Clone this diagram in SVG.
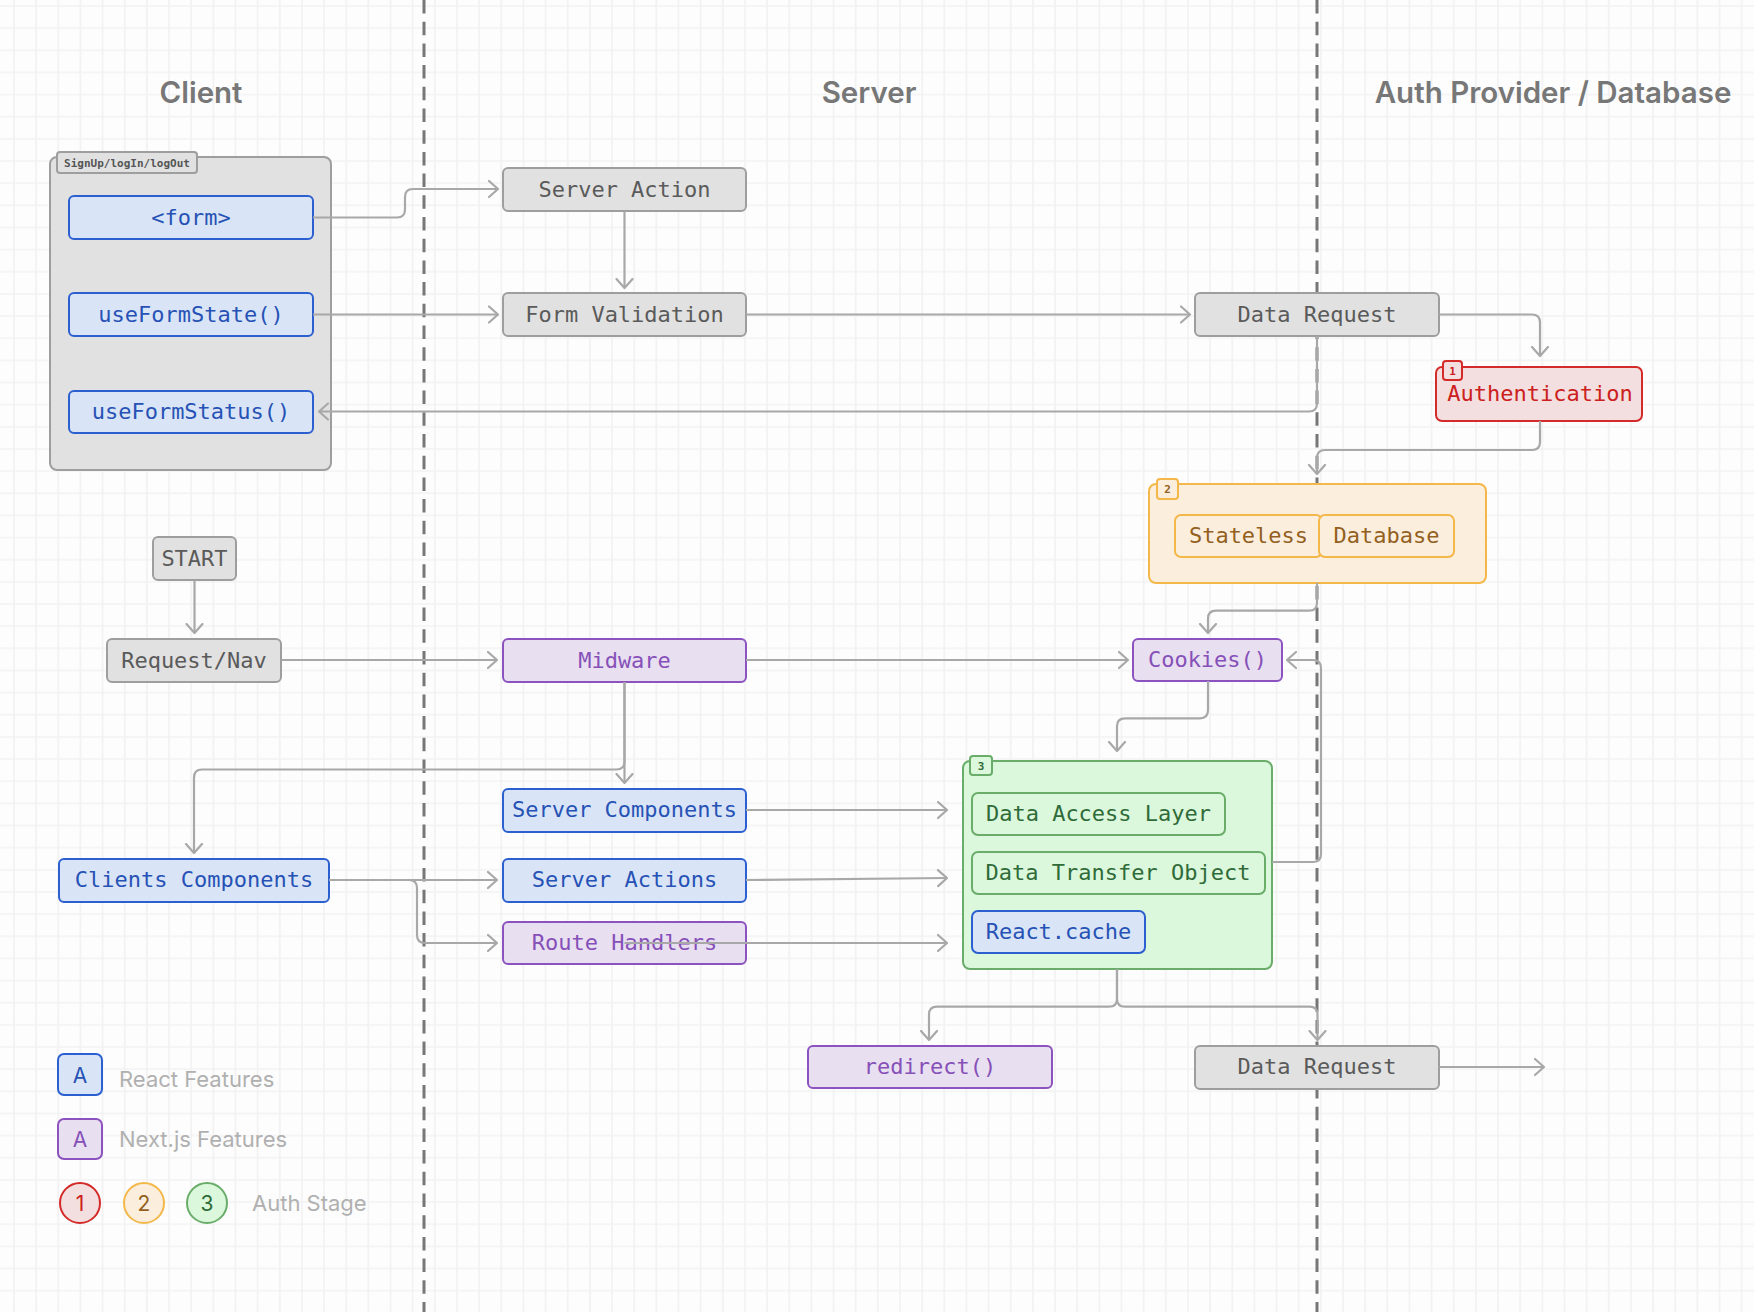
<svg xmlns="http://www.w3.org/2000/svg" width="1754" height="1312" viewBox="0 0 1754 1312">
<defs>
<pattern id="grid" x="13" y="5" width="22.15" height="22.15" patternUnits="userSpaceOnUse">
<path d="M1,0 V22.15 M0,1 H22.15" stroke="#f2f2f2" stroke-width="1.6" fill="none"/>
</pattern>
<marker id="arr" markerUnits="userSpaceOnUse" viewBox="0 0 12 20" refX="10.5" refY="10" markerWidth="12" markerHeight="20" orient="auto">
<path d="M1.5,2 L10.5,10 L1.5,18" fill="none" stroke="#a8a8a8" stroke-width="2.2" stroke-linecap="round" stroke-linejoin="round"/>
</marker>
<style>
.hdr{font-family:Inter,"Liberation Sans",sans-serif;font-weight:600;font-size:29.5px;fill:#777;text-anchor:middle}
.lg{font-family:Inter,"Liberation Sans",sans-serif;font-size:22px;fill:#b0b0b0}
.lgc{font-family:Inter,"Liberation Sans",sans-serif;font-size:21px;text-anchor:middle}
.t{font-family:"DejaVu Sans Mono","Liberation Mono",monospace;font-size:22px;text-anchor:middle}
.bt{font-family:"DejaVu Sans Mono","Liberation Mono",monospace;font-size:11px;font-weight:bold;text-anchor:middle}
.gray rect{fill:#e1e1e1;stroke:#9e9e9e;stroke-width:2}
.gray text{fill:#5a5a5a}
.blue rect{fill:#d9e5f7;stroke:#2c5fcf;stroke-width:2}
.blue text{fill:#2752b5}
.purple rect{fill:#e8dff0;stroke:#8c52bf;stroke-width:2}
.purple text{fill:#8650b8}
.red rect{fill:#f3dfdf;stroke:#d42a2a;stroke-width:2}
.red text{fill:#cc2020}
.orange rect{fill:#fbeedd;stroke:#f4b84a;stroke-width:2}
.orange text{fill:#93601e}
.green rect{fill:#dcf8dc;stroke:#6aad6a;stroke-width:2}
.green text{fill:#2f6b38}
.lane{stroke:#777;stroke-width:3;stroke-dasharray:13.5 8.2;fill:none}
.c{fill:none;stroke:#a8a8a8;stroke-width:2.2;marker-end:url(#arr)}
</style>
</defs>
<rect x="0" y="0" width="1754" height="1312" fill="#fdfdfd"/>
<rect x="0" y="0" width="1754" height="1312" fill="url(#grid)"/>

<g id="lanes">
<line class="lane" x1="424" y1="0" x2="424" y2="1312"/>
<line class="lane" x1="1317" y1="0" x2="1317" y2="1312"/>
</g>

<g id="headers">
<text class="hdr" x="201" y="103">Client</text>
<text class="hdr" x="869" y="103">Server</text>
<text class="hdr" x="1553" y="103">Auth Provider / Database</text>
</g>

<g id="signup-group" class="gray">
<rect x="50" y="157" width="281" height="313" rx="7"/>
<rect x="57" y="152" width="140" height="21" rx="3"/>
<text class="bt" x="127" y="166.5" style="fill:#555">SignUp/logIn/logOut</text>
</g>
<g id="form" class="blue"><rect x="69" y="196" width="244" height="43" rx="5"/><text class="t" x="191" y="224.5">&lt;form&gt;</text></g>
<g id="useFormState" class="blue"><rect x="69" y="293" width="244" height="43" rx="5"/><text class="t" x="191" y="321.5">useFormState()</text></g>
<g id="useFormStatus" class="blue"><rect x="69" y="391" width="244" height="42" rx="5"/><text class="t" x="191" y="419">useFormStatus()</text></g>

<g id="server-action" class="gray"><rect x="503" y="168" width="243" height="43" rx="5"/><text class="t" x="624.5" y="196.5">Server Action</text></g>
<g id="form-validation" class="gray"><rect x="503" y="293" width="243" height="43" rx="5"/><text class="t" x="624.5" y="321.5">Form Validation</text></g>
<g id="data-request-1" class="gray"><rect x="1195" y="293" width="244" height="43" rx="5"/><text class="t" x="1317" y="321.5">Data Request</text></g>

<g id="authentication" class="red">
<rect x="1436" y="367" width="206" height="54" rx="6"/>
<rect x="1443" y="361" width="19" height="19" rx="3"/>
<text class="bt" x="1452.5" y="374.5">1</text>
<text class="t" x="1540" y="401">Authentication</text>
</g>

<g id="session-group" class="orange">
<rect x="1149" y="484" width="337" height="99" rx="7"/>
<rect x="1157" y="479" width="21" height="20" rx="3"/>
<text class="bt" x="1167.5" y="493">2</text>
<rect x="1175" y="515" width="147" height="42" rx="6"/>
<text class="t" x="1248.5" y="543">Stateless</text>
<rect x="1319" y="515" width="135" height="42" rx="6"/>
<text class="t" x="1386.5" y="543">Database</text>
</g>

<g id="start" class="gray"><rect x="153" y="537" width="83" height="43" rx="5"/><text class="t" x="194.5" y="565.5">START</text></g>
<g id="request-nav" class="gray"><rect x="107" y="639" width="174" height="43" rx="5"/><text class="t" x="194" y="667.5">Request/Nav</text></g>
<g id="midware" class="purple"><rect x="503" y="639" width="243" height="43" rx="5"/><text class="t" x="624.5" y="667.5">Midware</text></g>
<g id="cookies" class="purple"><rect x="1133" y="639" width="149" height="42" rx="5"/><text class="t" x="1207.5" y="667">Cookies()</text></g>

<g id="server-components" class="blue"><rect x="503" y="789" width="243" height="43" rx="5"/><text class="t" x="624.5" y="817">Server Components</text></g>
<g id="clients-components" class="blue"><rect x="59" y="859" width="270" height="43" rx="5"/><text class="t" x="194" y="887">Clients Components</text></g>
<g id="server-actions" class="blue"><rect x="503" y="859" width="243" height="43" rx="5"/><text class="t" x="624.5" y="887">Server Actions</text></g>
<g id="route-handlers" class="purple"><rect x="503" y="922" width="243" height="42" rx="5"/><text class="t" x="624.5" y="950">Route Handlers</text></g>

<g id="dal-group" class="green">
<rect x="963" y="761" width="309" height="208" rx="7"/>
<rect x="970" y="756" width="22" height="19" rx="3"/>
<text class="bt" x="981" y="769.5">3</text>
<rect x="972" y="793" width="253" height="42" rx="6"/>
<text class="t" x="1098.5" y="820.5">Data Access Layer</text>
<rect x="972" y="852" width="293" height="42" rx="6"/>
<text class="t" x="1118" y="879.5">Data Transfer Object</text>
</g>
<g id="react-cache" class="blue"><rect x="972" y="911" width="173" height="42" rx="6"/><text class="t" x="1058.5" y="938.5">React.cache</text></g>

<g id="redirect" class="purple"><rect x="808" y="1046" width="244" height="42" rx="5"/><text class="t" x="930" y="1074">redirect()</text></g>
<g id="data-request-2" class="gray"><rect x="1195" y="1046" width="244" height="43" rx="5"/><text class="t" x="1317" y="1074">Data Request</text></g>

<g id="connectors">
<path class="c" d="M313,217.5 H397 Q405,217.5 405,209.5 V197 Q405,189 413,189 H498"/>
<path class="c" d="M624.5,211 V288"/>
<path class="c" d="M313,314.5 H498"/>
<path class="c" d="M746,314.5 H1190"/>
<path class="c" d="M1439,314.5 H1532 Q1540,314.5 1540,322.5 V356"/>
<path class="c" d="M1317,336 V403.5 Q1317,411.5 1309,411.5 H319"/>
<path class="c" d="M1540,421 V442 Q1540,450 1532,450 H1325 Q1317,450 1317,458 V474"/>
<path class="c" d="M1317,583 V602.7 Q1317,610.7 1309,610.7 H1216 Q1208,610.7 1208,618.7 V633"/>
<path class="c" d="M194.5,580 V633"/>
<path class="c" d="M281,660 H497"/>
<path class="c" d="M746,660 H1128"/>
<path class="c" d="M624.5,682 V783"/>
<path class="c" d="M624.5,682 V761.5 Q624.5,769.5 616.5,769.5 H202 Q194,769.5 194,777.5 V853"/>
<path class="c" d="M746,810 H947"/>
<path class="c" d="M329,880 H497"/>
<path class="c" d="M329,880 H409 Q417,880 417,888 V935 Q417,943 425,943 H497"/>
<path class="c" d="M746,880 L947,878"/>
<path class="c" d="M624.5,943 H947"/>
<path class="c" d="M1272,862 H1313 Q1321,862 1321,854 V668 Q1321,660 1313,660 H1287"/>
<path class="c" d="M1208,681 V710.3 Q1208,718.3 1200,718.3 H1125 Q1117,718.3 1117,726.3 V751"/>
<path class="c" d="M1117,969 V998.7 Q1117,1006.7 1109,1006.7 H937 Q929,1006.7 929,1014.7 V1040"/>
<path class="c" d="M1117,969 V998.7 Q1117,1006.7 1125,1006.7 H1309.5 Q1317.5,1006.7 1317.5,1014.7 V1040"/>
<path class="c" d="M1439,1067 H1544"/>
</g>

<g id="legend">
<g class="blue"><rect x="58" y="1054" width="44" height="41" rx="6"/><text class="lgc" x="80" y="1082.5">A</text></g>
<text class="lg" x="119" y="1087">React Features</text>
<g class="purple"><rect x="58" y="1119" width="44" height="40" rx="6"/><text class="lgc" x="80" y="1147">A</text></g>
<text class="lg" x="119" y="1147">Next.js Features</text>
<g class="red"><circle cx="80" cy="1203" r="20" fill="#f3dfdf" stroke="#d42a2a" stroke-width="2"/><text class="lgc" x="80" y="1210.5">1</text></g>
<g class="orange"><circle cx="144" cy="1203" r="20" fill="#fbeedd" stroke="#f4b84a" stroke-width="2"/><text class="lgc" x="144" y="1210.5">2</text></g>
<g class="green"><circle cx="207" cy="1203" r="20" fill="#dcf8dc" stroke="#6aad6a" stroke-width="2"/><text class="lgc" x="207" y="1210.5">3</text></g>
<text class="lg" x="252" y="1211">Auth Stage</text>
</g>
</svg>
